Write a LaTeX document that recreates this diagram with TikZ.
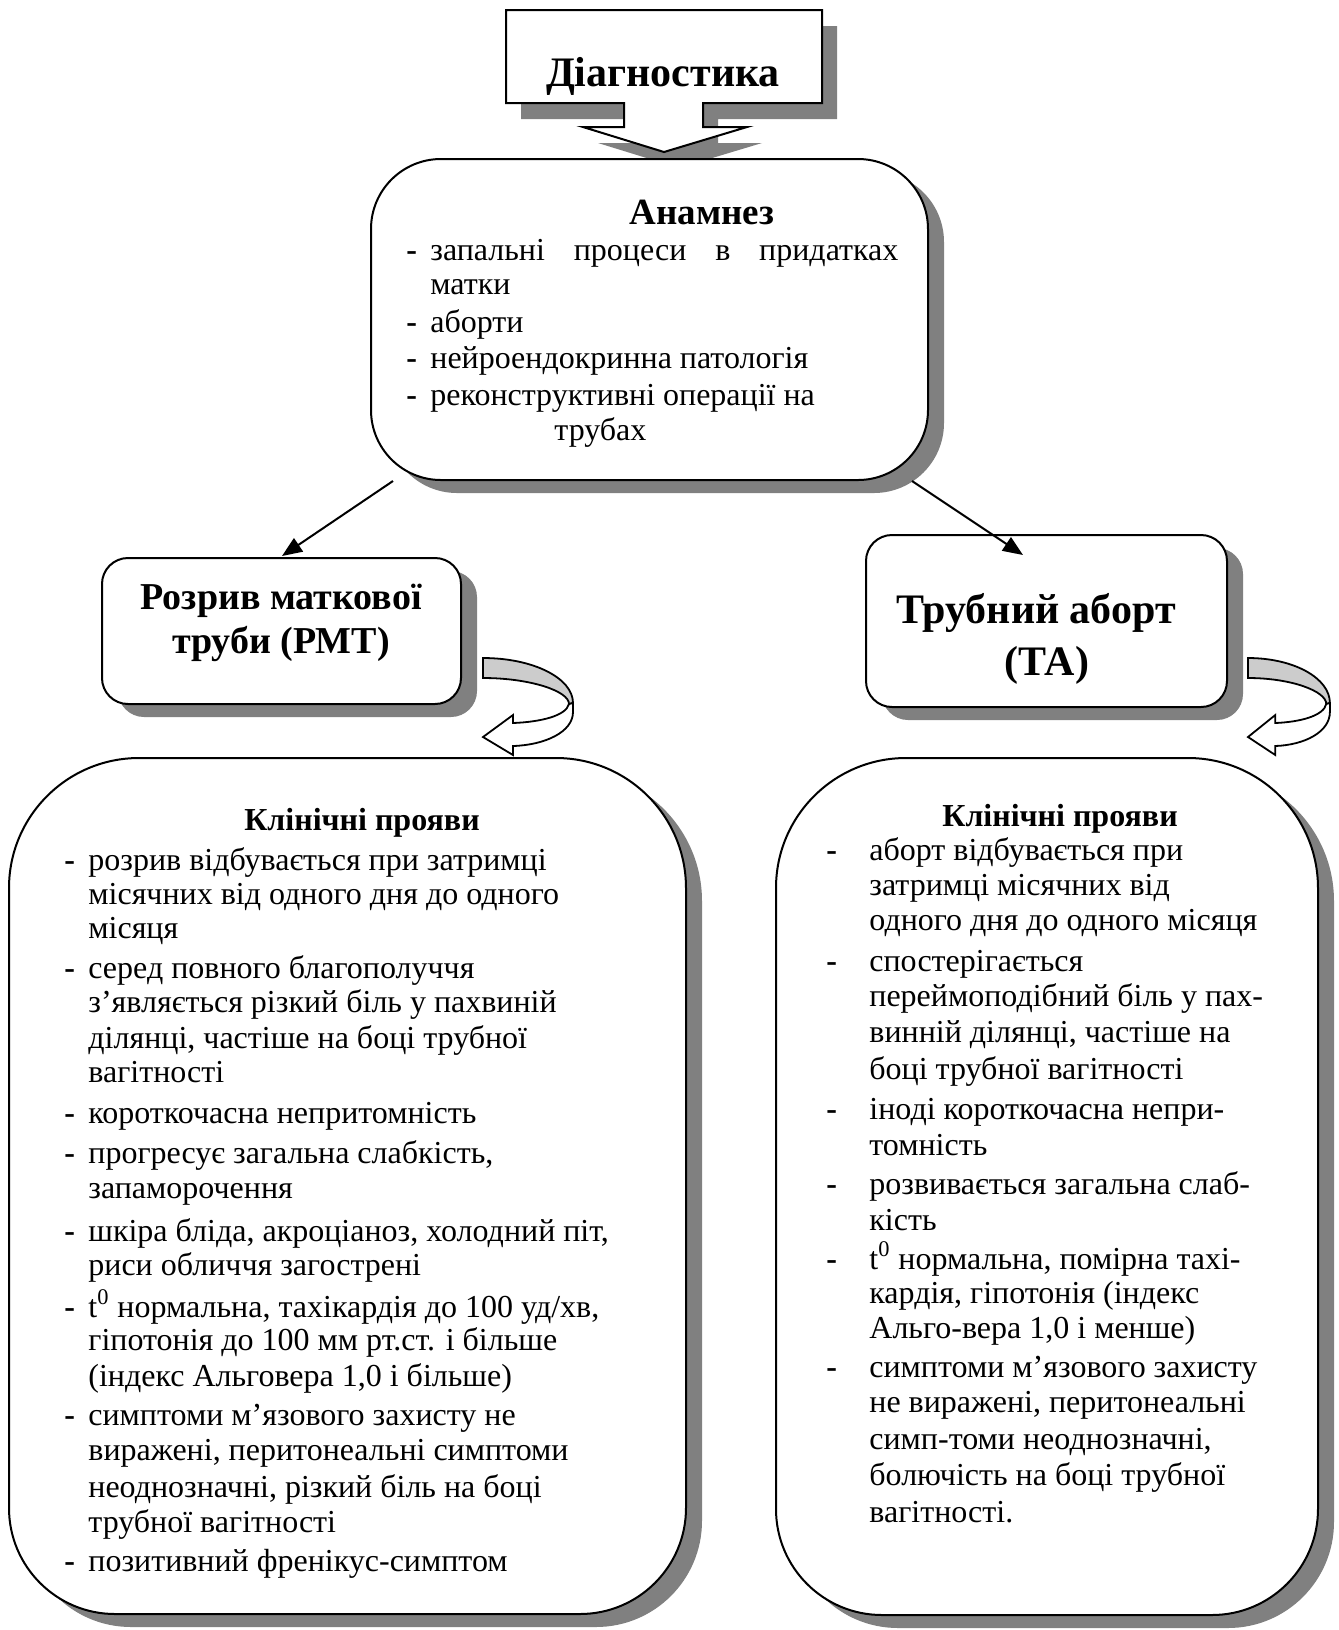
\documentclass[tikz,border=0pt]{standalone}
\usepackage{fontspec}
\setmainfont{Liberation Serif}
\usetikzlibrary{shadows,arrows.meta}
\definecolor{shadowgray}{HTML}{808080}
\definecolor{bandgray}{HTML}{CCCCCC}
\newcommand{\Tl}[4]{\node[tl] (#1) at (#2,#3) {#4};}
\newcommand{\Dl}[3]{\node[dashmark] (#1) at (#2,#3) {-};}
% big rounded panel: x0, y0, x1, y1
\newcommand{\panelpath}[4]{(#1,{(#2+#4)/2}) [rounded corners=65pt] -- (#1,#2) -- (#3,#2) -- (#3,{(#2+#4)/2}) [rounded corners=53pt] -- (#3,#4) -- (#1,#4) -- cycle}
\begin{document}
\begin{tikzpicture}[x=0.5pt,y=-0.5pt,
  box/.style={draw=black, line width=1pt, fill=white, inner sep=0pt, outer sep=0pt,
    drop shadow={shadow xshift=8pt, shadow yshift=-6.5pt, fill=shadowgray, opacity=1}},
  tl/.style={anchor=base west, inner sep=0pt, font=\fontsize{16pt}{19pt}\selectfont},
  dashmark/.style={anchor=base west, inner sep=0pt, font=\bfseries\fontsize{16pt}{19pt}\selectfont},
  head/.style={anchor=base, inner sep=0pt, font=\bfseries\fontsize{#1}{#1}\selectfont},
  conn/.style={line width=1pt, -{Triangle[length=10pt,width=8pt]}},
  ribbon/.style={draw=black, line width=0.9pt, line join=miter},
  panel/.style={draw=black, line width=1pt, fill=white}
]
\useasboundingbox (0,0) rectangle (1339,1630);

% ---------- title callout ----------
\fill[shadowgray, shift={(15,16)}] (506,10) -- (822,10) -- (822,103) -- (703,103) -- (703,127) -- (747,127) -- (664,152) -- (583,127) -- (624,127) -- (624,103) -- (506,103) -- cycle;
\draw[fill=white, line width=1pt] (506,10) -- (822,10) -- (822,103) -- (703,103) -- (703,127) -- (747,127) -- (664,152) -- (583,127) -- (624,127) -- (624,103) -- (506,103) -- cycle;
\node[head=21pt] (title) at (663,86) {Діагностика};

% ---------- Anamnesis ----------
\node[box, rounded corners=35pt, minimum width=278.5pt, minimum height=160.5pt] (anam) at (649.5,319.5) {};
\node[head=18.5pt] (anamh) at (702,224) {Анамнез};
\Dl{ad1}{406}{260}\Tl{a1}{430}{260}{\makebox[234pt][s]{запальні процеси в придатках}}
\Tl{a2}{430}{294}{матки}
\Dl{ad2}{406}{332}\Tl{a3}{430}{332}{аборти}
\Dl{ad3}{406}{368}\Tl{a4}{430}{368}{нейроендокринна патологія}
\Dl{ad4}{406}{405}\Tl{a5}{430}{405}{реконструктивні операції на}
\Tl{a6}{554}{440}{трубах}

% ---------- second level ----------
\node[box, rounded corners=13pt, minimum width=179.5pt, minimum height=73pt] (rmt) at (281.5,631) {};
\node[head=19pt] (rmt1) at (281,609) {Розрив маткової};
\node[head=19pt] (rmt2) at (281,653) {труби (РМТ)};

\node[box, rounded corners=13pt, minimum width=180.5pt, minimum height=86pt] (ta) at (1046.5,621) {};
\node[head=21pt] (ta1) at (1036,623) {Трубний аборт};
\node[head=21pt] (ta2) at (1047,675) {(ТА)};

\coordinate (s1) at (393,481);
\coordinate (e1) at (282,556);
\coordinate (s2) at (912,481);
\coordinate (e2) at (1023,555);
\draw[conn] (s1) -- (e1);
\draw[conn] (s2) -- (e2);

% ---------- curved arrows ----------
\foreach \ox/\sx [count=\i] in {483/1, 1248/0.91}{
  \begin{scope}[shift={(\ox,658)}, xscale=\sx]
    \draw[ribbon, fill=bandgray] (0,0) .. controls (50,0) and (90,20) .. (90,45) -- (86,46) .. controls (86,33) and (47,20) .. (0,20) -- cycle;
    \draw[ribbon, fill=white] (86,46) .. controls (83,58) and (57,64) .. (30,65) -- (30,57) -- (0,79) -- (30,97) -- (30,88) .. controls (62,87) and (90,74) .. (90,54) -- (90,45) -- cycle;
  \end{scope}
}

% ---------- bottom panels ----------
\fill[shadowgray, shift={(16,13)}] \panelpath{9}{758}{686}{1614};
\draw[panel] \panelpath{9}{758}{686}{1614};
\fill[shadowgray, shift={(16,13)}] \panelpath{776}{758}{1318}{1615};
\draw[panel] \panelpath{776}{758}{1318}{1615};

\node[head=16pt] (lh) at (362,830) {Клінічні прояви};
\Dl{ld1}{64}{870}\Tl{l1}{88}{870}{розрив відбувається при затримці}
\Tl{l2}{88}{904}{місячних від одного дня до одного}
\Tl{l3}{88}{938}{місяця}
\Dl{ld2}{64}{978}\Tl{l4}{88}{978}{серед повного благополуччя}
\Tl{l5}{88}{1012}{з’являється різкий біль у пахвиній}
\Tl{l6}{88}{1048}{ділянці, частіше на боці трубної}
\Tl{l7}{88}{1082}{вагітності}
\Dl{ld3}{64}{1123}\Tl{l8}{88}{1123}{короткочасна непритомність}
\Dl{ld4}{64}{1163}\Tl{l9}{88}{1163}{прогресує загальна слабкість,}
\Tl{l10}{88}{1198}{запаморочення}
\Dl{ld5}{64}{1241}\Tl{l11}{88}{1241}{шкіра бліда, акроціаноз, холодний піт,}
\Tl{l12}{88}{1275}{риси обличчя загострені}
\Dl{ld6}{64}{1317}\Tl{l13}{88}{1317}{t\textsuperscript{0} нормальна, тахікардія до 100 уд/хв,}
\Tl{l14}{88}{1350}{гіпотонія до 100 мм рт.ст. і більше}
\Tl{l15}{88}{1386}{(індекс Альговера 1,0 і більше)}
\Dl{ld7}{64}{1425}\Tl{l16}{88}{1425}{симптоми м’язового захисту не}
\Tl{l17}{88}{1460}{виражені, перитонеальні симптоми}
\Tl{l18}{88}{1497}{неоднозначні, різкий біль на боці}
\Tl{l19}{88}{1532}{трубної вагітності}
\Dl{ld8}{64}{1571}\Tl{l20}{88}{1571}{позитивний френікус-симптом}

\node[head=16pt] (rh) at (1060,826) {Клінічні прояви};
\Dl{rd1}{826}{860}\Tl{r1}{869}{860}{аборт відбувається при}
\Tl{r2}{869}{895}{затримці місячних від}
\Tl{r3}{869}{930}{одного дня до одного місяця}
\Dl{rd2}{826}{971}\Tl{r4}{869}{971}{спостерігається}
\Tl{r5}{869}{1006}{переймоподібний біль у пах-}
\Tl{r6}{869}{1042}{винній ділянці, частіше на}
\Tl{r7}{869}{1079}{боці трубної вагітності}
\Dl{rd3}{826}{1119}\Tl{r8}{869}{1119}{іноді короткочасна непри-}
\Tl{r9}{869}{1155}{томність}
\Dl{rd4}{826}{1194}\Tl{r10}{869}{1194}{розвивається загальна слаб-}
\Tl{r11}{869}{1230}{кість}
\Dl{rd5}{826}{1269}\Tl{r12}{869}{1269}{t\textsuperscript{0} нормальна, помірна тахі-}
\Tl{r13}{869}{1303}{кардія, гіпотонія (індекс}
\Tl{r14}{869}{1338}{Альго-вера 1,0 і менше)}
\Dl{rd6}{826}{1377}\Tl{r15}{869}{1377}{симптоми м’язового захисту}
\Tl{r16}{869}{1412}{не виражені, перитонеальні}
\Tl{r17}{869}{1449}{симп-томи неоднозначні,}
\Tl{r18}{869}{1485}{болючість на боці трубної}
\Tl{r19}{869}{1522}{вагітності.}
\end{tikzpicture}
\end{document}
